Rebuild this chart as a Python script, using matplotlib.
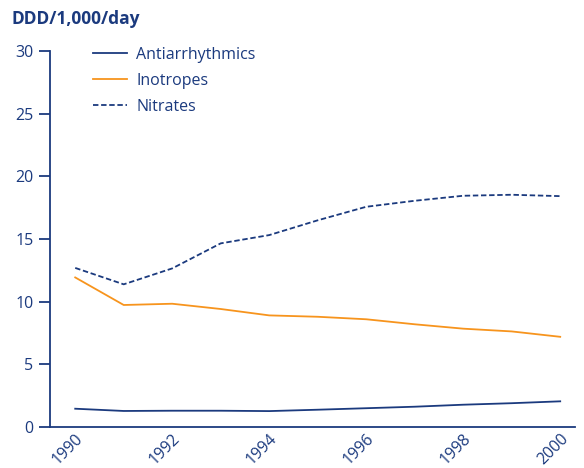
import matplotlib
matplotlib.use("Agg")
import matplotlib.pyplot as plt

years = list(range(1990, 2001))
antiarrhythmics = [1.46, 1.28, 1.3, 1.3, 1.27, 1.38, 1.5, 1.62, 1.78, 1.9, 2.05]
inotropes = [11.94, 9.74, 9.84, 9.42, 8.91, 8.8, 8.6, 8.2, 7.85, 7.63, 7.2]
nitrates = [12.7, 11.39, 12.66, 14.66, 15.32, 16.5, 17.58, 18.06, 18.46, 18.54, 18.43]
xticks = [1990, 1992, 1994, 1996, 1998, 2000]
yticks = [0, 5, 10, 15, 20, 25, 30]

navy = "#1b3a7e"
orange = "#f7941d"
plt.rcParams["font.family"] = ["Open Sans", "DejaVu Sans"]

fig = plt.figure(figsize=(5.84, 4.68), dpi=100)
ax = fig.add_axes([0.0856, 0.0876, 0.8994, 0.803])

ax.plot(years, antiarrhythmics, color=navy, lw=1.3, label="Antiarrhythmics")
ax.plot(years, inotropes, color=orange, lw=1.3, label="Inotropes")
ax.plot(years, nitrates, color=navy, lw=1.3, ls=(0, (3, 1.5)), label="Nitrates")

ax.set_xlim(1989.48, 2000.31)
ax.set_ylim(0, 30)
ax.set_xticks(xticks)
ax.set_xticklabels([str(y) for y in xticks], rotation=45, ha="right", va="top",
                   rotation_mode="anchor")
ax.set_yticks(yticks)

for s in ["top", "right"]:
    ax.spines[s].set_visible(False)
for s in ["left", "bottom"]:
    ax.spines[s].set_color(navy)
    ax.spines[s].set_linewidth(1.3)

ax.tick_params(axis="y", length=8, width=1.3, color=navy, labelcolor=navy,
               labelsize=11.5, pad=4)
ax.tick_params(axis="x", length=0, labelcolor=navy, labelsize=11.5, pad=3)

leg = ax.legend(loc="upper left", bbox_to_anchor=(0.055, 1.05), frameon=False,
                fontsize=11.5, handlelength=2.1, handletextpad=0.6,
                labelspacing=0.62)
for t in leg.get_texts():
    t.set_color(navy)

fig.text(0.02, 0.96, "DDD/1,000/day", color=navy, fontsize=12.5,
         fontweight="bold", va="center", ha="left")

fig.savefig("out.png", dpi=100)
